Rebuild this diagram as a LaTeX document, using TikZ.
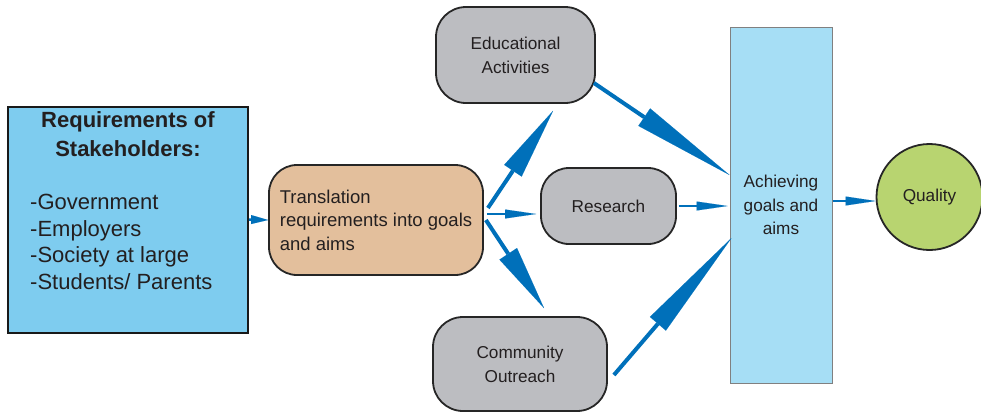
\documentclass[tikz,border=0pt]{standalone}
\usepackage{fontspec}
\setmainfont{Liberation Sans}
\usetikzlibrary{arrows.meta}

\definecolor{stakeblue}{HTML}{7ECCEF}
\definecolor{achblue}{HTML}{A6DEF5}
\definecolor{transtan}{HTML}{E3BF9C}
\definecolor{boxgray}{HTML}{BCBDC1}
\definecolor{qualgreen}{HTML}{B8D470}
\definecolor{arrowblue}{HTML}{0070BA}
\definecolor{textdark}{HTML}{231F20}

\begin{document}
\begin{tikzpicture}[x=1pt, y=-1pt,
    every node/.style={text=textdark},
    stakebox/.style={rectangle, draw=black!90, line width=2pt, fill=stakeblue,
        minimum width=240pt, minimum height=226pt},
    roundbox/.style={rectangle, rounded corners=30pt, draw=black!85, line width=1.8pt,
        fill=boxgray, align=center, font=\fontsize{17.2}{24}\selectfont},
    transbox/.style={roundbox, fill=transtan, align=left, rounded corners=28pt,
        font=\fontsize{18.5}{23.5}\selectfont},
    achbox/.style={rectangle, draw=black!50, line width=1pt, fill=achblue,
        minimum width=102pt, minimum height=356pt, align=center,
        font=\fontsize{17.2}{23.5}\selectfont},
    qualnode/.style={circle, draw=black!85, line width=1.8pt, fill=qualgreen,
        minimum size=106pt, inner sep=0pt, font=\fontsize{17.2}{22}\selectfont},
    bigarrow/.style={draw=arrowblue, line width=4pt,
        -{Triangle[length=#1, width=21pt, line width=0.01pt]}},
    thinarrow/.style={draw=arrowblue, line width=2pt,
        -{Triangle[length=#1, width=9pt, line width=0.01pt]}}]
    \useasboundingbox (0,0) rectangle (981,413);

    %%%%%%%%%% Nodes %%%%%%%%%%
    \node[stakebox] (stake) at (128,219.5) {};
    \node[align=center, inner sep=0pt, font=\fontsize{22}{29}\selectfont\bfseries]
        (staketitle) at (128,134.5) {Requirements of\\Stakeholders:};
    \node[align=left, inner sep=0pt, anchor=north west, font=\fontsize{22}{26.5}\selectfont]
        (stakelist) at (30,194) {-Government\\-Employers\\-Society at large\\-Students/ Parents};

    \node[transbox, minimum width=214pt, minimum height=110pt] (trans) at (376,220)
        {Translation\\requirements into goals\\and aims};

    \node[roundbox, minimum width=159pt, minimum height=96pt] (edu) at (515.5,55)
        {Educational\\Activities};
    \node[roundbox, rounded corners=28pt, minimum width=135pt, minimum height=76pt]
        (research) at (608.5,206) {Research};
    \node[roundbox, minimum width=174pt, minimum height=94pt] (comm) at (520,364)
        {Community\\Outreach};

    \node[achbox] (ach) at (781,205) {Achieving\\goals and\\aims};
    \node[qualnode] (quality) at (929.5,197) {Quality};

    %%%%%%%%% Arrows %%%%%%%%%%
    \draw[thinarrow=17pt, line width=2.5pt] (stake.east) -- (trans.west);
    \draw[bigarrow=72pt] ([xshift=4pt,yshift=12pt]trans.east) -- ([xshift=37.5pt,yshift=-7pt]edu.south);
    \draw[thinarrow=31pt] ([xshift=3pt,yshift=6pt]trans.east) -- ([xshift=-4pt,yshift=-8pt]research.west);
    \draw[bigarrow=65pt] ([xshift=2pt]trans.east) -- ([xshift=24pt,yshift=8pt]comm.north);
    \draw[bigarrow=103pt] ([xshift=-2pt,yshift=-28pt]edu.east) -- ([yshift=30pt]ach.west);
    \draw[thinarrow=31pt, shorten <=2pt, shorten >=2pt] (research.east) -- (research.east -| ach.west);
    \draw[bigarrow=113pt] ([xshift=6pt,yshift=-11pt]comm.east) -- ([xshift=2pt,yshift=-33pt]ach.west);
    \draw[thinarrow=30pt] ([yshift=4pt]ach.east) -- ([yshift=-4pt]quality.west);
\end{tikzpicture}
\end{document}
